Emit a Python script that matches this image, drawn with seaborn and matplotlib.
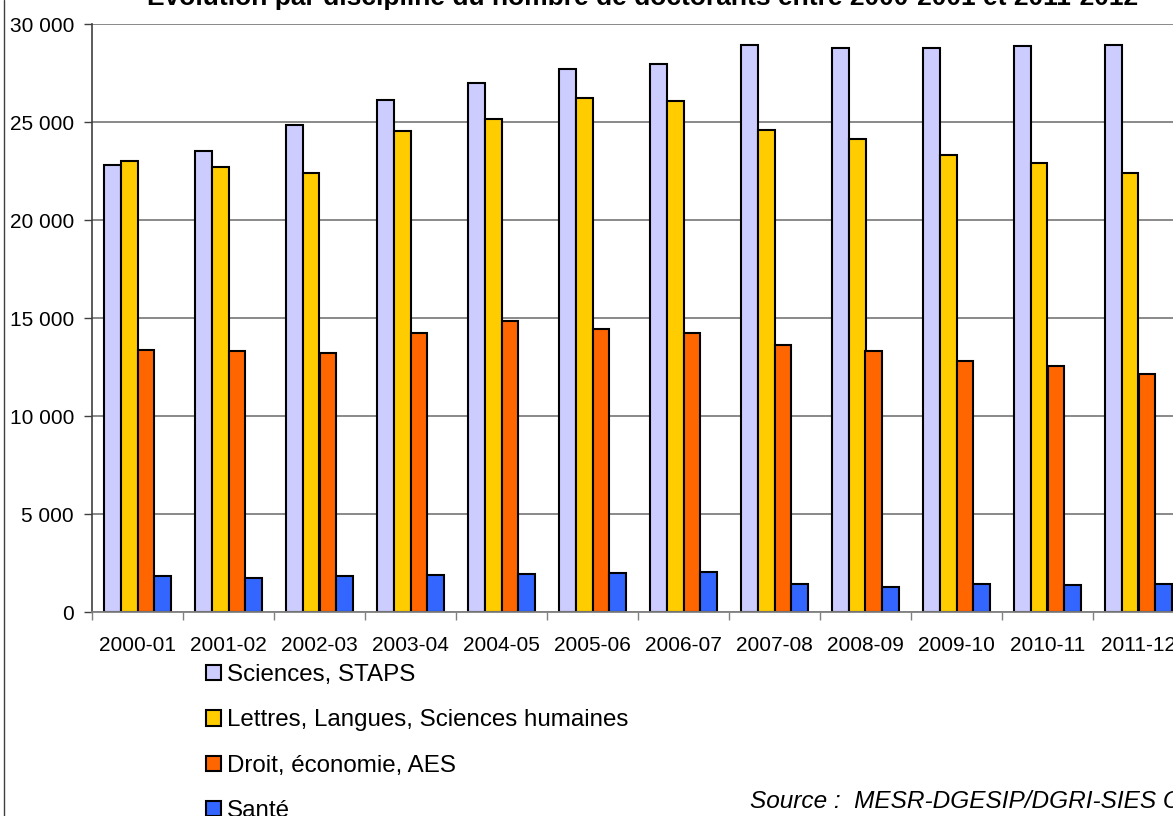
import numpy as np
import pandas as pd
import matplotlib
matplotlib.use("Agg")
import matplotlib.pyplot as plt
import seaborn as sns
from matplotlib.patches import Patch
from matplotlib.lines import Line2D

# Doctorants par discipline, années universitaires 2000-01 à 2011-12
years = ["2000-01", "2001-02", "2002-03", "2003-04", "2004-05", "2005-06",
         "2006-07", "2007-08", "2008-09", "2009-10", "2010-11", "2011-12"]
sciences = [22800, 23500, 24850, 26100, 27000, 27720, 27960, 28910, 28760, 28760, 28890, 28930]
lettres = [23000, 22700, 22410, 24540, 25170, 26210, 26090, 24580, 24130, 23330, 22890, 22380]
droit = [13380, 13320, 13210, 14240, 14850, 14420, 14240, 13620, 13300, 12820, 12550, 12160]
sante = [1840, 1720, 1840, 1900, 1920, 1970, 2040, 1450, 1290, 1410, 1400, 1450]
disciplines = ["Sciences, STAPS", "Lettres, Langues, Sciences humaines",
               "Droit, économie, AES", "Santé"]
colors = ["#CCCCFF", "#FFCC00", "#FF6600", "#3366FF"]
y_ticks = [0, 5000, 10000, 15000, 20000, 25000, 30000]

series = [sciences, lettres, droit, sante]
df = pd.DataFrame({
    "annee": np.tile(years, len(disciplines)),
    "discipline": np.repeat(disciplines, len(years)),
    "effectif": np.concatenate(series),
})

sns.set_style("white")
plt.rcParams["font.family"] = ["Liberation Sans", "DejaVu Sans"]

W, H = 1173, 816
fig = plt.figure(figsize=(W / 100, H / 100), dpi=100)
ax = fig.add_axes([92 / W, 204 / H, 1092 / W, 588 / H])

sns.barplot(data=df, x="annee", y="effectif", hue="discipline",
            order=years, hue_order=disciplines, palette=colors, saturation=1,
            width=0.74, gap=0, errorbar=None, edgecolor="black",
            linewidth=1.5, ax=ax, legend=False)

ax.set_xlim(-0.5, len(years) - 0.5)
ax.set_ylim(0, 30000)
ax.set_xlabel("")
ax.set_ylabel("")

# y axis: thousands separated by a space
ax.set_yticks(y_ticks)
ax.set_yticklabels([f"{v:,}".replace(",", " ") for v in y_ticks], fontsize=15)
ax.yaxis.grid(True, color="#808080", linewidth=1.3)
ax.set_axisbelow(True)
ax.tick_params(axis="y", direction="out", length=6, width=1, color="#404040",
               pad=7, left=True, labelcolor="black")

# x axis: tick marks between categories, labels centred on categories
ax.set_xticks(np.arange(-0.5, len(years), 1.0))
ax.set_xticklabels([])
ax.set_xticks(np.arange(len(years)), minor=True)
ax.set_xticklabels(years, minor=True, fontsize=15)
ax.tick_params(axis="x", which="major", direction="out", length=6, width=1,
               color="#808080", bottom=True)
ax.tick_params(axis="x", which="minor", length=0, pad=17, labelcolor="black")

for side in ["top", "right"]:
    ax.spines[side].set_visible(False)
ax.spines["left"].set_color("#404040")
ax.spines["left"].set_linewidth(1.2)
ax.spines["bottom"].set_color("#808080")
ax.spines["bottom"].set_linewidth(1.3)

handles = [Patch(facecolor=c, edgecolor="black", linewidth=1.5) for c in colors]
fig.legend(handles, disciplines, loc="upper left",
           bbox_to_anchor=(206 / W, 1 - 664 / H), bbox_transform=fig.transFigure,
           frameon=False, fontsize=17.4, handlelength=0.6, handleheight=0.6,
           handletextpad=0.25, labelspacing=0.97, borderpad=0, borderaxespad=0,
           labelcolor="black")

fig.text(643 / W, 1 - 5 / H,
         "Évolution par discipline du nombre de doctorants entre 2000-2001 et 2011-2012",
         ha="center", va="baseline", fontsize=19, fontweight="bold", color="black")

fig.text(750 / W, 1 - 802 / H, "Source :  MESR-DGESIP/DGRI-SIES C",
         ha="left", va="center", fontsize=17.6, style="italic", color="black")

# chart frame edge on the left
fig.add_artist(Line2D([3.5 / W, 3.5 / W], [0, 1], transform=fig.transFigure,
                      color="#404040", linewidth=1))

fig.savefig("out.png", dpi=100)
